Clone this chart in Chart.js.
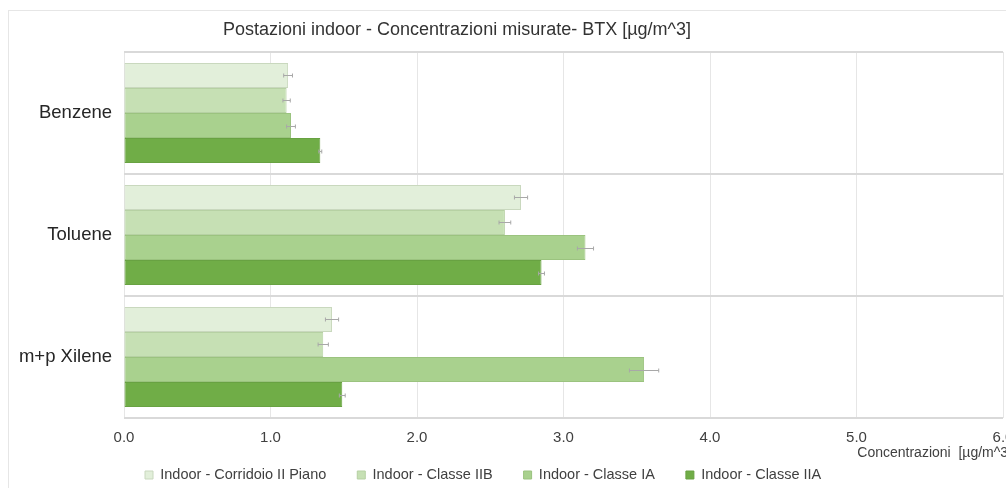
<!DOCTYPE html>
<html lang="it">
<head>
<meta charset="utf-8">
<title>Postazioni indoor - BTX</title>
<script src="https://cdn.jsdelivr.net/npm/chart.js@4/dist/chart.umd.min.js"></script>
<style>
  html, body { margin: 0; padding: 0; background: #ffffff; overflow: hidden; width: 1006px; height: 488px; }
  #frame { position: absolute; left: 8px; top: 10px; width: 1100px; height: 600px; border: 1px solid #e6e6e6; box-sizing: border-box; background: #fff; }
  #wrap { position: absolute; left: 0; top: 0; width: 1016px; height: 477px; }
</style>
</head>
<body>
<div id="frame"><div id="wrap"><canvas id="chart"></canvas></div></div>
<script>
// Pollutants on the vertical axis
const categories = ['Benzene', 'Toluene', 'm+p Xilene'];

// Sampling points
const seriesNames = [
  'Indoor - Corridoio II Piano',
  'Indoor - Classe IIB',
  'Indoor - Classe IA',
  'Indoor - Classe IIA'
];

// Mean concentrations [µg/m^3], one array per sampling point
const corridoioIIPiano = [1.12, 2.71, 1.42];
const classeIIB        = [1.11, 2.60, 1.36];
const classeIA         = [1.14, 3.15, 3.55];
const classeIIA        = [1.34, 2.85, 1.49];

// Measurement uncertainty (±) for each value above
const errCorridoioIIPiano = [0.03, 0.045, 0.045];
const errClasseIIB        = [0.025, 0.04, 0.035];
const errClasseIA         = [0.03, 0.055, 0.10];
const errClasseIIA        = [0.01, 0.02, 0.02];

// Concentration axis
const xTicks = [0, 1, 2, 3, 4, 5, 6];

const chartTitle = 'Postazioni indoor - Concentrazioni misurate- BTX [µg/m^3]';
const xAxisTitle = 'Concentrazioni  [µg/m^3]';

const seriesValues = [corridoioIIPiano, classeIIB, classeIA, classeIIA];
const seriesErrors = [errCorridoioIIPiano, errClasseIIB, errClasseIA, errClasseIIA];
const fills   = ['#e2efda', '#c6e0b4', '#a9d18e', '#70ad47'];
const strokes = ['#c9d8be', '#b6d1a3', '#9bc37f', '#68a242'];

const FONT = '"Liberation Sans", Arial, Helvetica, sans-serif';

// Horizontal error bars drawn from the value and uncertainty arrays
const errorBars = {
  id: 'errorBars',
  afterDatasetsDraw(chart) {
    const ctx = chart.ctx;
    const xs = chart.scales.x;
    ctx.save();
    ctx.strokeStyle = '#a8a8a8';
    ctx.lineWidth = 1;
    chart.data.datasets.forEach((ds, i) => {
      const meta = chart.getDatasetMeta(i);
      meta.data.forEach((bar, j) => {
        const v = ds.data[j];
        const e = seriesErrors[i][j];
        const x1 = xs.getPixelForValue(v - e);
        const x2 = xs.getPixelForValue(v + e);
        const y = Math.round(bar.y) + 0.5;
        ctx.beginPath();
        ctx.moveTo(x1, y); ctx.lineTo(x2, y);
        ctx.moveTo(x1, y - 2); ctx.lineTo(x1, y + 2);
        ctx.moveTo(x2, y - 2); ctx.lineTo(x2, y + 2);
        ctx.stroke();
      });
    });
    ctx.restore();
  }
};

// Title and legend sit on fixed spans rather than the full canvas width
const LEGEND_RESERVED = 26.6;
const blockPlacement = {
  id: 'blockPlacement',
  beforeLayout(chart) {
    const lg = chart.legend;
    if (lg && !lg.__fitWrapped) {
      const fit = lg.fit;
      lg.fit = function () { fit.call(this); this.height = LEGEND_RESERVED; };
      lg.__fitWrapped = true;
    }
  },
  afterLayout(chart) {
    const t = chart.titleBlock;
    if (t) { t.left = 0; t.right = 896; t.width = 896; }
    const lg = chart.legend;
    if (lg) {
      const pad = lg.options.labels.padding;
      const fs = lg.options.labels.font.size;
      lg.left = 136 - pad;
      lg.width = 900;
      lg.right = lg.left + lg.width;
      lg.top = 464 - pad - fs / 2;
      lg.height = 80;
      lg.bottom = lg.top + lg.height;
    }
    // axis title runs a little past the last gridline
    const xs = chart.scales.x;
    if (xs) { xs.right += 9; }
  }
};

new Chart(document.getElementById('chart'), {
  type: 'bar',
  data: {
    labels: categories,
    datasets: seriesNames.map((name, i) => ({
      label: name,
      data: seriesValues[i],
      backgroundColor: fills[i],
      borderColor: strokes[i],
      borderWidth: 1,
      borderSkipped: false,
      categoryPercentage: 0.82,
      barPercentage: 1.0
    }))
  },
  options: {
    indexAxis: 'y',
    responsive: true,
    maintainAspectRatio: false,
    animation: false,
    devicePixelRatio: 1,
    layout: { padding: { left: 0, right: 0, top: 0, bottom: 0 } },
    scales: {
      x: {
        min: 0,
        max: 6,
        afterBuildTicks(scale) { scale.ticks = xTicks.map(v => ({ value: v })); },
        afterFit(scale) { scale.paddingLeft = 0; scale.paddingRight = 22; scale.height = 43.4; },
        ticks: {
          font: { family: FONT, size: 15 },
          color: '#404040',
          padding: 11,
          callback: v => Number(v).toFixed(1)
        },
        grid: { color: '#e6e6e6', lineWidth: 1, drawTicks: false },
        border: { display: false },
        title: {
          display: true,
          text: xAxisTitle,
          align: 'end',
          font: { family: FONT, size: 14 },
          color: '#404040',
          padding: { top: 0, bottom: 0 }
        }
      },
      y: {
        ticks: {
          font: { family: FONT, size: 18.5 },
          color: '#262626',
          padding: 12
        },
        grid: { color: '#d9d9d9', lineWidth: 2, drawTicks: false, offset: true },
        border: { display: false },
        afterFit(scale) { scale.width = 115; }
      }
    },
    plugins: {
      title: {
        display: true,
        text: chartTitle,
        font: { family: FONT, size: 18, weight: 'normal' },
        color: '#333333',
        padding: { top: 8, bottom: 11.4 }
      },
      legend: {
        position: 'bottom',
        align: 'start',
        labels: {
          boxWidth: 8,
          boxHeight: 8,
          padding: 31,
          font: { family: FONT, size: 14.5 },
          color: '#404040'
        }
      },
      tooltip: { enabled: false }
    }
  },
  plugins: [errorBars, blockPlacement]
});
</script>
</body>
</html>
